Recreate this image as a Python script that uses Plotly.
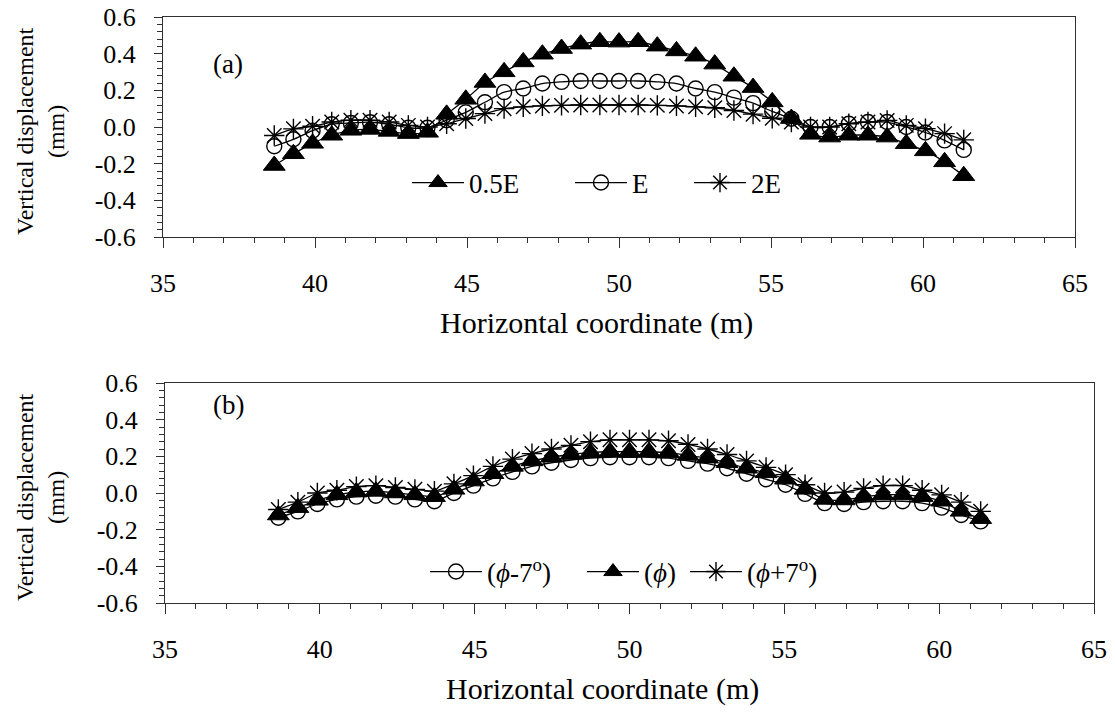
import plotly.graph_objects as go

# ---------------- data ----------------
x_m = [38.66, 39.29, 39.92, 40.55, 41.18, 41.81, 42.44, 43.07, 43.70, 44.33,
       44.96, 45.59, 46.22, 46.85, 47.48, 48.11, 48.74, 49.37, 50.00, 50.63,
       51.26, 51.89, 52.52, 53.15, 53.78, 54.41, 55.04, 55.67, 56.30, 56.93,
       57.56, 58.19, 58.82, 59.45, 60.08, 60.71, 61.34]

# panel (a)
a_05E = [-0.210, -0.146, -0.089, -0.045, -0.018, -0.013, -0.024, -0.036, -0.029, 0.069,
         0.151, 0.243, 0.301, 0.355, 0.397, 0.428, 0.452, 0.465, 0.463, 0.465,
         0.441, 0.415, 0.386, 0.343, 0.277, 0.215, 0.137, 0.046, -0.040, -0.055,
         -0.045, -0.045, -0.055, -0.091, -0.130, -0.190, -0.266]
a_E = [-0.105, -0.067, -0.020, 0.015, 0.022, 0.026, 0.015, -0.004, -0.004, 0.037,
       0.080, 0.135, 0.190, 0.210, 0.237, 0.246, 0.251, 0.251, 0.251, 0.251,
       0.246, 0.237, 0.210, 0.190, 0.160, 0.130, 0.085, 0.045, 0.000, 0.000,
       0.018, 0.027, 0.027, 0.000, -0.030, -0.073, -0.125]
a_2E = [-0.046, -0.010, 0.004, 0.027, 0.037, 0.037, 0.027, 0.009, 0.000, 0.018,
        0.046, 0.073, 0.100, 0.110, 0.115, 0.118, 0.120, 0.120, 0.120, 0.120,
        0.118, 0.115, 0.110, 0.105, 0.090, 0.070, 0.048, 0.027, 0.000, 0.000,
        0.018, 0.027, 0.036, 0.009, -0.009, -0.036, -0.070]

# panel (b)
b_m7 = [-0.135, -0.100, -0.060, -0.035, -0.020, -0.015, -0.020, -0.035, -0.045, 0.000,
        0.040, 0.080, 0.115, 0.145, 0.165, 0.180, 0.190, 0.195, 0.195, 0.195,
        0.190, 0.175, 0.160, 0.135, 0.105, 0.075, 0.045, -0.005, -0.055, -0.060,
        -0.050, -0.045, -0.045, -0.055, -0.080, -0.120, -0.155]
b_0 = [-0.120, -0.080, -0.040, -0.010, 0.005, 0.010, 0.000, -0.010, -0.020, 0.020,
       0.065, 0.105, 0.145, 0.175, 0.195, 0.210, 0.220, 0.225, 0.225, 0.225,
       0.220, 0.205, 0.190, 0.165, 0.135, 0.110, 0.075, 0.020, -0.035, -0.038,
       -0.020, -0.010, -0.010, -0.020, -0.045, -0.100, -0.140]
b_p7 = [-0.090, -0.050, 0.000, 0.015, 0.035, 0.040, 0.030, 0.020, 0.010, 0.050,
        0.095, 0.145, 0.185, 0.215, 0.240, 0.260, 0.280, 0.290, 0.290, 0.290,
        0.285, 0.265, 0.240, 0.210, 0.175, 0.140, 0.100, 0.045, 0.000, 0.005,
        0.025, 0.040, 0.040, 0.015, -0.010, -0.050, -0.100]

names_a = ["0.5E", "E", "2E"]
names_b = ["(<i>ϕ</i>-7<sup>o</sup>)", "(<i>ϕ</i>)", "(<i>ϕ</i>+7<sup>o</sup>)"]

y_ticks = [-0.6, -0.4, -0.2, 0.0, 0.2, 0.4, 0.6]
y_tick_text = ["-0.6", "-0.4", "-0.2", "0.0", "0.2", "0.4", "0.6"]
x_ticks = [35, 40, 45, 50, 55, 60, 65]
x_tick_text = ["35", "40", "45", "50", "55", "60", "65"]

# ---------------- style ----------------
FONT = "Liberation Serif, Times New Roman, serif"
W, H = 1115, 715
AX = "#303030"

def px_x(p):
    return p / W

def px_y(p):
    return 1 - p / H

STY = {
    "tri": dict(symbol="triangle-up", size=19, color="black", line=dict(color="black", width=1)),
    "cir": dict(symbol="circle-open", size=15, color="black", line=dict(color="black", width=1.4)),
    "ast": dict(symbol="asterisk-open", size=17, color="black", line=dict(color="black", width=1.4)),
}

fig = go.Figure()

def add(y, name, sty, xa, ya, legend):
    fig.add_trace(go.Scatter(
        x=x_m, y=y, name=name, mode="lines+markers", xaxis=xa, yaxis=ya, legend=legend,
        line=dict(color="black", width=1.3, shape="spline", smoothing=0.6),
        marker=STY[sty],
    ))

add(a_05E, names_a[0], "tri", "x", "y", "legend")
add(a_E, names_a[1], "cir", "x", "y", "legend2")
add(a_2E, names_a[2], "ast", "x", "y", "legend3")

add(b_m7, names_b[0], "cir", "x2", "y2", "legend4")
add(b_0, names_b[1], "tri", "x2", "y2", "legend5")
add(b_p7, names_b[2], "ast", "x2", "y2", "legend6")

TICK_SIZE = 26
tickfont = dict(family=FONT, size=TICK_SIZE, color="black")

def xax(domain, anchor):
    return dict(domain=domain, anchor=anchor, range=[35, 65], tickmode="array",
                tickvals=x_ticks, ticktext=x_tick_text, ticks="outside", ticklen=10,
                tickwidth=1, tickcolor=AX, showline=True, linecolor=AX, linewidth=1,
                mirror=True, showgrid=False, zeroline=False, tickfont=tickfont,
                ticklabelstandoff=13, ticklabeloverflow="allow",
                minor=dict(tickmode="linear", tick0=35, dtick=1, ticks="outside",
                           ticklen=5, tickwidth=1, tickcolor=AX, showgrid=False))

def yax(domain, anchor):
    return dict(domain=domain, anchor=anchor, range=[-0.6, 0.6], tickmode="array",
                tickvals=y_ticks, ticktext=y_tick_text, ticks="outside", ticklen=8,
                tickwidth=1, tickcolor=AX, showline=True, linecolor=AX, linewidth=1,
                mirror=True, showgrid=False, zeroline=False, tickfont=tickfont,
                ticklabelstandoff=13, ticklabeloverflow="allow",
                minor=dict(tickmode="linear", tick0=-0.6, dtick=0.04, ticks="outside",
                           ticklen=5, tickwidth=1, tickcolor=AX, showgrid=False))

def xin(domain, anchor, over):
    return dict(domain=domain, anchor=anchor, overlaying=over, range=[35, 65],
                tickmode="array", tickvals=x_ticks, ticks="inside", ticklen=6,
                tickwidth=1, tickcolor=AX, showticklabels=False, showline=False,
                showgrid=False, zeroline=False)

def yin(domain, anchor, over):
    return dict(domain=domain, anchor=anchor, overlaying=over, range=[-0.6, 0.6],
                tickmode="array", tickvals=y_ticks, ticks="inside", ticklen=7,
                tickwidth=1, tickcolor=AX, showticklabels=False, showline=False,
                showgrid=False, zeroline=False)

xa_dom = [px_x(163), px_x(1075)]
ya_dom = [px_y(237), px_y(17)]
xb_dom = [px_x(165), px_x(1094)]
yb_dom = [px_y(603), px_y(383)]

legfont = dict(family=FONT, size=27, color="black")
annfont = dict(family=FONT, size=27, color="black")
titlefont = dict(family=FONT, size=30, color="black")
ytitlefont = dict(family=FONT, size=24, color="black")

def leg(xpage, ypage):
    return dict(x=px_x(xpage), y=px_y(ypage), xanchor="left", yanchor="middle",
                orientation="h", font=legfont, bgcolor="rgba(0,0,0,0)",
                borderwidth=0, itemwidth=52)

fig.update_layout(
    width=W, height=H, template="none",
    paper_bgcolor="white", plot_bgcolor="white",
    margin=dict(l=0, r=0, t=0, b=0),
    font=dict(family=FONT, size=20, color="black"),
    xaxis=xax(xa_dom, "y"), yaxis=yax(ya_dom, "x"),
    xaxis2=xax(xb_dom, "y2"), yaxis2=yax(yb_dom, "x2"),
    xaxis3=xin(xa_dom, "y", "x"), yaxis3=yin(ya_dom, "x", "y"),
    xaxis4=xin(xb_dom, "y2", "x2"), yaxis4=yin(yb_dom, "x2", "y2"),
    legend=leg(407, 183), legend2=leg(570, 183), legend3=leg(689, 183),
    legend4=leg(425, 572), legend5=leg(582, 572), legend6=leg(685, 572),
    showlegend=True,
    annotations=[
        dict(text="(a)", x=px_x(228), y=px_y(64), xref="paper", yref="paper",
             showarrow=False, font=annfont, xanchor="center", yanchor="middle"),
        dict(text="(b)", x=px_x(228), y=px_y(405), xref="paper", yref="paper",
             showarrow=False, font=annfont, xanchor="center", yanchor="middle"),
        dict(text="Horizontal coordinate (m)", x=px_x(597), y=px_y(323),
             xref="paper", yref="paper", showarrow=False, font=titlefont,
             xanchor="center", yanchor="middle"),
        dict(text="Horizontal coordinate (m)", x=px_x(602), y=px_y(689),
             xref="paper", yref="paper", showarrow=False, font=titlefont,
             xanchor="center", yanchor="middle"),
        dict(text="Vertical displacement<br>(mm)", x=px_x(40), y=px_y(131),
             xref="paper", yref="paper", showarrow=False, textangle=-90,
             font=ytitlefont, xanchor="center", yanchor="middle"),
        dict(text="Vertical displacement<br>(mm)", x=px_x(40), y=px_y(497),
             xref="paper", yref="paper", showarrow=False, textangle=-90,
             font=ytitlefont, xanchor="center", yanchor="middle"),
    ],
)

fig.write_html("out.html", config={"displayModeBar": False},
               post_script="document.body.style.margin='0px';")
